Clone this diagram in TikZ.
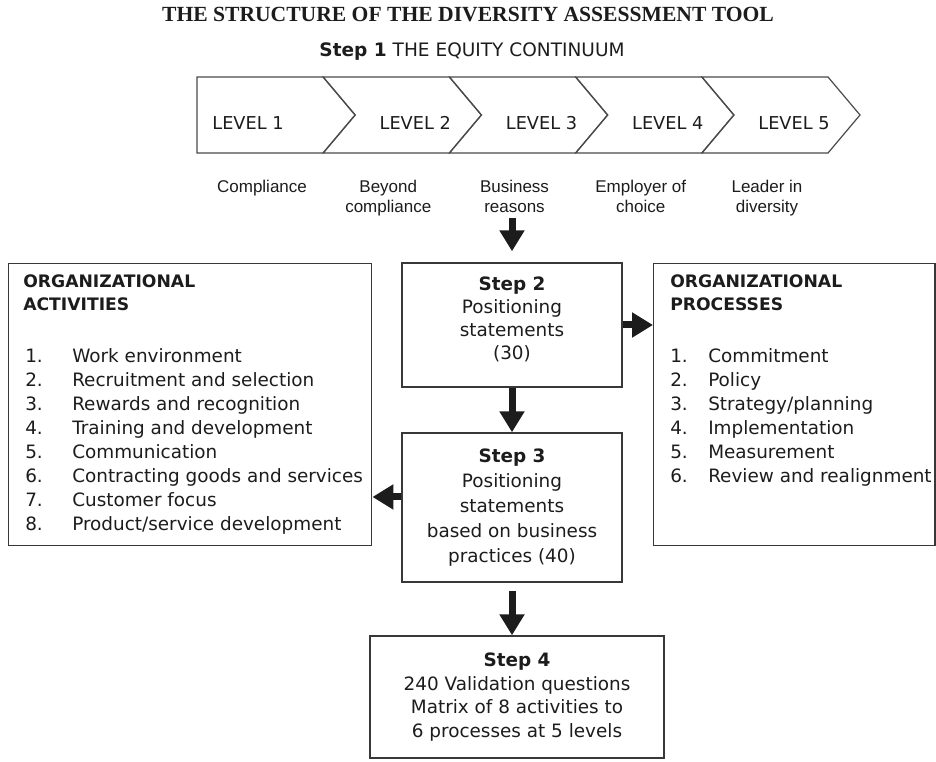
\documentclass[tikz,border=0pt]{standalone}
\usepackage{fontspec}
\setmainfont{DejaVu Sans}
\newfontfamily\titlefont{Liberation Serif}
\newfontfamily\labelfont{Liberation Sans}
\usetikzlibrary{arrows.meta}

\definecolor{ink}{HTML}{1C1C1C}
\definecolor{edge}{HTML}{383838}
\definecolor{chev}{HTML}{4A4A4A}

\tikzset{
  frame/.style={draw=edge, line width=1.1pt, rectangle, inner sep=0pt},
  bodytext/.style={text=ink, inner sep=0pt, font=\fontsize{13.8pt}{17pt}\selectfont},
  headtext/.style={text=ink, inner sep=0pt, anchor=base west, font=\fontsize{12.9pt}{17pt}\selectfont\bfseries},
  itemtext/.style={text=ink, inner sep=0pt, anchor=base west, font=\fontsize{13.8pt}{17pt}\selectfont},
  leveltext/.style={text=ink, inner sep=0pt, anchor=base, font=\fontsize{13.3pt}{16pt}\selectfont},
  captext/.style={text=ink, inner sep=0pt, anchor=base, font=\labelfont\fontsize{12.75pt}{15pt}\selectfont},
  chevline/.style={draw=chev, line width=0.9pt, line join=miter},
  bigarrow/.style={draw=ink, line width=5.25pt, -{Triangle[length=15.75pt, width=18pt]}}
}

\begin{document}
\begin{tikzpicture}[x=0.75pt, y=-0.75pt]
\useasboundingbox (0,0) rectangle (936,762);

% headings
\node[anchor=base, text=ink, inner sep=0pt,
      font=\titlefont\bfseries\fontsize{16.2pt}{18pt}\selectfont] (title) at (468,22)
  {THE STRUCTURE OF THE DIVERSITY ASSESSMENT TOOL};
\node[anchor=base, text=ink, inner sep=0pt,
      font=\fontsize{13.9pt}{17pt}\selectfont] (continuum) at (472,57)
  {\textbf{Step 1} THE EQUITY CONTINUUM};

% the five chevrons of the equity continuum
\draw[chevline] (197,77) -- (323,77) -- (355,115) -- (323,153) -- (197,153) -- cycle;
\foreach \i in {1,...,4}{
  \pgfmathsetmacro\b{197+126.25*\i}
  \draw[chevline] (\b,77) -- (\b+126,77) -- (\b+158,115) -- (\b+126,153)
                  -- (\b,153) -- (\b+32,115) -- cycle;
}
\node[leveltext] (lev1) at (248,130) {LEVEL 1};
\node[leveltext] (lev2) at (415.25,130) {LEVEL 2};
\node[leveltext] (lev3) at (541.5,130) {LEVEL 3};
\node[leveltext] (lev4) at (667.75,130) {LEVEL 4};
\node[leveltext] (lev5) at (794,130) {LEVEL 5};

% captions under the levels
\node[captext] (cap1)  at (262,193)    {Compliance};
\node[captext] (cap2a) at (388.25,193) {Beyond};
\node[captext] (cap2b) at (388.25,213) {compliance};
\node[captext] (cap3a) at (514.5,193)  {Business};
\node[captext] (cap3b) at (514.5,213)  {reasons};
\node[captext] (cap4a) at (640.75,193) {Employer of};
\node[captext] (cap4b) at (640.75,213) {choice};
\node[captext] (cap5a) at (767,193)    {Leader in};
\node[captext] (cap5b) at (767,213)    {diversity};

% step boxes
\node[frame, bodytext, align=center, minimum width=165pt, minimum height=93pt,
      text depth=10pt]
  (step2) at (512,325)
  {\textbf{Step 2}\\[0.4pt]Positioning\\[0.4pt]statements\\[0.4pt](30)};
\node[frame, bodytext, align=center, minimum width=165pt, minimum height=111.75pt]
  (step3) at (512,507.5)
  {\textbf{Step 3}\\[1.6pt]Positioning\\[1.6pt]statements\\[1.6pt]based on business\\[1.6pt]practices (40)};
\node[frame, bodytext, align=center, minimum width=220.5pt, minimum height=91.5pt]
  (step4) at (517,697)
  {\textbf{Step 4}\\[0.8pt]240 Validation questions\\[0.8pt]Matrix of 8 activities to\\[0.8pt]6 processes at 5 levels};

% organizational activities
\node[frame, anchor=north west, minimum width=272.25pt, minimum height=211.5pt]
  (actbox) at (8,263) {};
\node[headtext] (acthead1) at (23,288) {ORGANIZATIONAL};
\node[headtext] (acthead2) at (23,311) {ACTIVITIES};
\foreach \t [count=\k] in {Work environment, Recruitment and selection,
    Rewards and recognition, Training and development, Communication,
    Contracting goods and services, Customer focus, Product/service development}{
  \node[itemtext] (act\k) at (25,{363+24*(\k-1)})
    {\makebox[35.25pt][l]{\k.}\t};
}

% organizational processes
\node[frame, anchor=north west, minimum width=211.1pt, minimum height=211.5pt]
  (procbox) at (653,263) {};
\node[headtext] (prochead1) at (670,288) {ORGANIZATIONAL};
\node[headtext] (prochead2) at (670,311) {PROCESSES};
\foreach \t [count=\k] in {Commitment, Policy, Strategy/planning,
    Implementation, Measurement, Review and realignment}{
  \node[itemtext] (proc\k) at (670,{363+24*(\k-1)})
    {\makebox[28.5pt][l]{\k.}\t};
}

% connectors
\draw[bigarrow, shorten <=3.75pt, shorten >=8.25pt]
  (cap3b.south -| step2.north) -- (step2.north);
\draw[bigarrow] (step2.east) -- (step2.east -| procbox.west);
\draw[bigarrow] (step2.south) -- (step3.north);
\draw[bigarrow] ([yshift=7.9pt]step3.west) -- ([yshift=7.9pt]step3.west -| actbox.east);
\draw[bigarrow, shorten <=6pt] (step3.south) -- (step3.south |- step4.north);
\end{tikzpicture}
\end{document}
